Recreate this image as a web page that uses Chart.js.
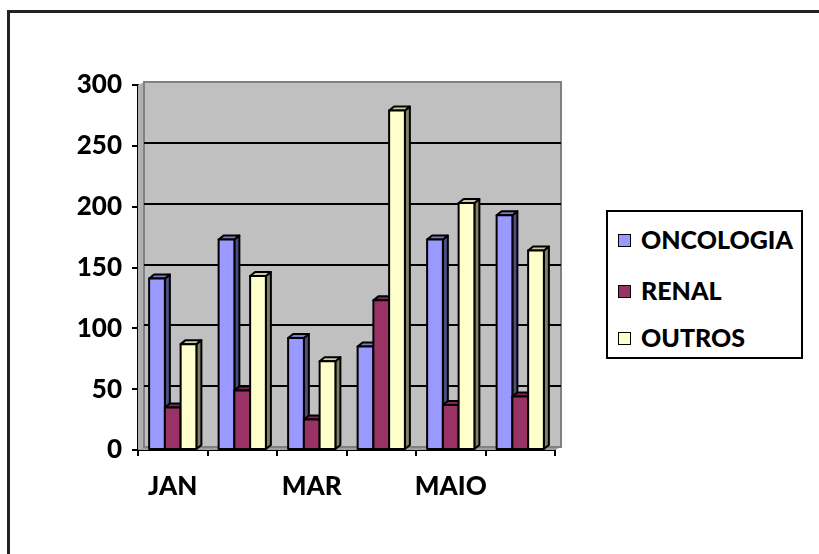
<!DOCTYPE html>
<html>
<head>
<meta charset="utf-8">
<script src="https://cdn.jsdelivr.net/npm/chart.js@4"></script>
<style>
  html, body { margin: 0; padding: 0; background: #fff; }
  #wrap { position: relative; width: 819px; height: 554px; overflow: hidden; }
  #frame {
    position: absolute; left: 7px; top: 10px; width: 2000px; height: 2000px;
    border-top: 3px solid #222; border-left: 3px solid #222;
  }
  #legend {
    position: absolute; left: 606px; top: 210px; width: 193px; height: 145px;
    border: 2px solid #000; background: #fff;
    font-family: Lato, "Open Sans", sans-serif; font-weight: 900; font-size: 25px; color: #000;
  }
  .item { position: absolute; left: 10px; height: 30px; line-height: 30px; white-space: nowrap; }
  .item span.box {
    display: inline-block; width: 11px; height: 11px; border: 1.5px solid #000;
    margin-right: 10px; vertical-align: middle; position: relative; top: -2px;
  }
</style>
</head>
<body>
<div id="wrap">
  <div id="frame"></div>
  <canvas id="chart" width="819" height="554"></canvas>
  <div id="legend"></div>
</div>
<script>
// Monthly counts per group
const months = ['JAN', 'FEV', 'MAR', 'ABR', 'MAIO', 'JUN'];
const oncologia = [141, 173, 92, 85, 173, 193];
const renal = [35, 49, 25, 123, 37, 44];
const outros = [87, 143, 73, 279, 203, 164];
const seriesNames = ['ONCOLOGIA', 'RENAL', 'OUTROS'];

// front / side / top colours for each series
const faceColors = [
  { front: '#9999FF', side: '#4D4D80', top: '#7A7ACC' },
  { front: '#993366', side: '#4D1A33', top: '#7A2952' },
  { front: '#FFFFCC', side: '#808066', top: '#CCCCA3' }
];

const WALL = { dx: 6, dy: -3 };
const BAR = { dx: 5, dy: -4 };
const tickFont = { family: 'Lato', weight: '900', size: 26 };

// back wall, side wall, floor and gridlines behind the bars
const wallPlugin = {
  id: 'wall3d',
  beforeDatasetsDraw(chart) {
    const { ctx, chartArea: a, scales } = chart;
    const { dx, dy } = WALL;
    ctx.save();
    // side wall
    ctx.fillStyle = '#B0B0B0';
    ctx.beginPath();
    ctx.moveTo(a.left, a.top);
    ctx.lineTo(a.left + dx, a.top + dy);
    ctx.lineTo(a.left + dx, a.bottom + dy);
    ctx.lineTo(a.left, a.bottom);
    ctx.closePath();
    ctx.fill();
    // floor
    ctx.fillStyle = '#A0A0A0';
    ctx.beginPath();
    ctx.moveTo(a.left, a.bottom);
    ctx.lineTo(a.left + dx, a.bottom + dy);
    ctx.lineTo(a.right + dx, a.bottom + dy);
    ctx.lineTo(a.right, a.bottom);
    ctx.closePath();
    ctx.fill();
    // back wall
    ctx.fillStyle = '#C0C0C0';
    ctx.fillRect(a.left + dx, a.top + dy, a.right - a.left, a.bottom - a.top);
    ctx.strokeStyle = '#808080';
    ctx.lineWidth = 2;
    ctx.strokeRect(a.left + dx, a.top + dy, a.right - a.left, a.bottom - a.top);
    // gridlines
    ctx.strokeStyle = '#000';
    ctx.lineWidth = 2;
    scales.y.ticks.forEach(t => {
      if (t.value === 0 || t.value === scales.y.max) return;
      const y = Math.round(scales.y.getPixelForValue(t.value) + dy);
      ctx.beginPath();
      ctx.moveTo(a.left + dx, y);
      ctx.lineTo(a.right + dx, y);
      ctx.stroke();
    });
    ctx.restore();
  },
  // redraw each bar as a block: side, top, then front so neighbours overlap properly
  afterDatasetsDraw(chart) {
    const { ctx } = chart;
    const { dx, dy } = BAR;
    ctx.save();
    ctx.strokeStyle = '#000';
    ctx.lineWidth = 2;
    ctx.lineJoin = 'round';
    months.forEach((m, i) => {
      chart.data.datasets.forEach((ds, di) => {
        const el = chart.getDatasetMeta(di).data[i];
        const c = faceColors[di];
        const l = el.x - el.width / 2, r = el.x + el.width / 2;
        const t = el.y, b = el.base;
        // side
        ctx.fillStyle = c.side;
        ctx.beginPath();
        ctx.moveTo(r, t);
        ctx.lineTo(r + dx, t + dy);
        ctx.lineTo(r + dx, b + dy);
        ctx.lineTo(r, b);
        ctx.closePath();
        ctx.fill();
        ctx.stroke();
        // top
        ctx.fillStyle = c.top;
        ctx.beginPath();
        ctx.moveTo(l, t);
        ctx.lineTo(l + dx, t + dy);
        ctx.lineTo(r + dx, t + dy);
        ctx.lineTo(r, t);
        ctx.closePath();
        ctx.fill();
        ctx.stroke();
        // front
        ctx.fillStyle = c.front;
        ctx.fillRect(l, t, r - l, b - t);
        ctx.strokeRect(l, t, r - l, b - t);
      });
    });
    ctx.restore();
  }
};

const chart = new Chart(document.getElementById('chart'), {
  type: 'bar',
  data: {
    labels: months,
    datasets: [
      { label: seriesNames[0], data: oncologia, backgroundColor: faceColors[0].front },
      { label: seriesNames[1], data: renal, backgroundColor: faceColors[1].front },
      { label: seriesNames[2], data: outros, backgroundColor: faceColors[2].front }
    ]
  },
  options: {
    responsive: false,
    animation: false,
    layout: { padding: { top: 85, right: 264, left: 0, bottom: 0 } },
    datasets: { bar: { categoryPercentage: 0.68, barPercentage: 1, borderWidth: 0 } },
    plugins: { legend: { display: false }, tooltip: { enabled: false } },
    scales: {
      x: {
        afterFit: s => { s.height = 104; },
        grid: { offset: true, drawOnChartArea: false, drawTicks: true, tickLength: 6, color: '#000', lineWidth: 2 },
        border: { color: '#000', width: 2 },
        ticks: {
          autoSkip: false, maxRotation: 0, padding: 15, color: '#000',
          font: tickFont,
          callback: (v, i) => (i % 2 === 0 ? months[i] : '')
        }
      },
      y: {
        min: 0, max: 300,
        afterFit: s => { s.width = 138; },
        grid: { drawOnChartArea: false, drawTicks: true, tickLength: 6, color: '#000', lineWidth: 2 },
        border: { color: '#000', width: 2 },
        ticks: {
          stepSize: 50, padding: 10, color: '#000',
          font: tickFont
        }
      }
    }
  },
  plugins: [wallPlugin]
});

// legend box
const legend = document.getElementById('legend');
const itemTops = [12, 63, 110];
chart.data.datasets.forEach((ds, i) => {
  const item = document.createElement('div');
  item.className = 'item';
  item.style.top = itemTops[i] + 'px';
  item.innerHTML = '<span class="box" style="background:' + ds.backgroundColor + '"></span>' + ds.label;
  legend.appendChild(item);
});
</script>
</body>
</html>
